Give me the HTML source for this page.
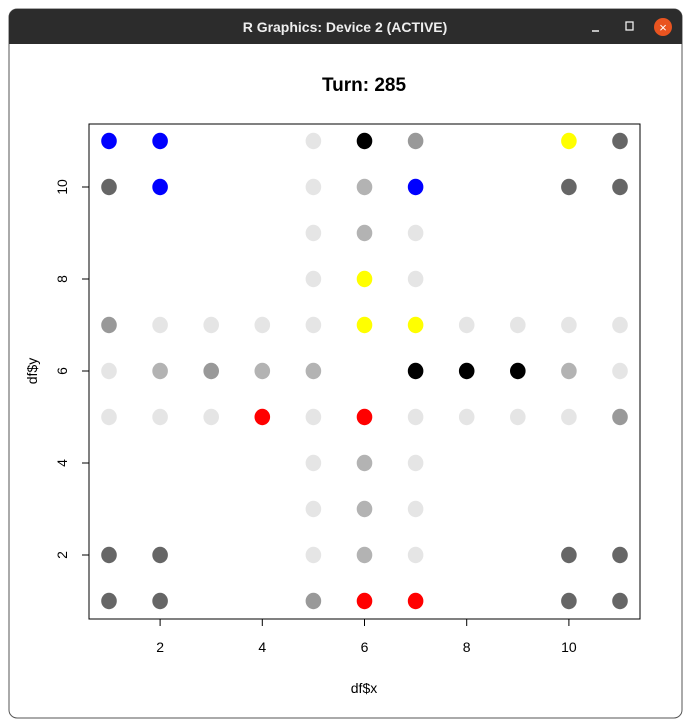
<!DOCTYPE html>
<html><head><meta charset="utf-8"><style>
html,body{margin:0;padding:0;background:#fff;width:691px;height:728px;overflow:hidden;font-family:"Liberation Sans",sans-serif}
</style></head><body>
<svg width="691" height="728" xmlns="http://www.w3.org/2000/svg">
<rect x="9" y="9" width="673" height="709" rx="8" fill="#fff" stroke="#555" stroke-width="1"/>
<path d="M9 44 V17 a8 8 0 0 1 8 -8 H674 a8 8 0 0 1 8 8 V44 Z" fill="#2c2c2c"/>
<text x="345" y="32" text-anchor="middle" fill="#eee" font-size="14" font-weight="bold">R Graphics: Device 2 (ACTIVE)</text>
<line x1="592" y1="31" x2="599" y2="31" stroke="#eee" stroke-width="1.5"/>
<rect x="626" y="22" width="7" height="8" fill="none" stroke="#eee" stroke-width="1.3"/>
<g><circle cx="663" cy="27" r="9" fill="#e95420"/><text x="663" y="32" text-anchor="middle" fill="#fff" font-size="13">×</text></g>
<text x="364" y="91" text-anchor="middle" font-size="19" font-weight="bold">Turn: 285</text>
<rect x="89" y="124" width="551" height="495" fill="none" stroke="#000" stroke-width="1"/>
<g id="axes"></g>
<g id="pts"></g>
<text x="364" y="693" text-anchor="middle" font-size="14">df$x</text>
<text transform="translate(37,371) rotate(-90)" text-anchor="middle" font-size="14">df$y</text>
</svg>
<script>
const xTicks=[2,4,6,8,10];
const yTicks=[2,4,6,8,10];
const px=[1,2,5,6,7,10,11, 1,2,5,6,7,10,11, 5,6,7, 5,6,7, 1,2,3,4,5,6,7,8,9,10,11, 1,2,3,4,5,7,8,9,10,11, 1,2,3,4,5,6,7,8,9,10,11, 5,6,7, 5,6,7, 1,2,5,6,7,10,11, 1,2,5,6,7,10,11];
const py=[11,11,11,11,11,11,11, 10,10,10,10,10,10,10, 9,9,9, 8,8,8, 7,7,7,7,7,7,7,7,7,7,7, 6,6,6,6,6,6,6,6,6,6, 5,5,5,5,5,5,5,5,5,5,5, 4,4,4, 3,3,3, 2,2,2,2,2,2,2, 1,1,1,1,1,1,1];
const pc=["blue","blue","#e5e5e5","black","#999","yellow","#666",
"#666","blue","#e5e5e5","#b3b3b3","blue","#666","#666",
"#e5e5e5","#b3b3b3","#e5e5e5",
"#e5e5e5","yellow","#e5e5e5",
"#999","#e5e5e5","#e5e5e5","#e5e5e5","#e5e5e5","yellow","yellow","#e5e5e5","#e5e5e5","#e5e5e5","#e5e5e5",
"#e5e5e5","#b3b3b3","#999","#b3b3b3","#b3b3b3","black","black","black","#b3b3b3","#e5e5e5",
"#e5e5e5","#e5e5e5","#e5e5e5","red","#e5e5e5","red","#e5e5e5","#e5e5e5","#e5e5e5","#e5e5e5","#999",
"#e5e5e5","#b3b3b3","#e5e5e5",
"#e5e5e5","#b3b3b3","#e5e5e5",
"#666","#666","#e5e5e5","#b3b3b3","#e5e5e5","#666","#666",
"#666","#666","#999","red","red","#666","#666"];
const NS="http://www.w3.org/2000/svg";
const sx=v=>109+(v-1)*51.1;
const sy=v=>601-(v-1)*46;
const ax=document.getElementById('axes');
xTicks.forEach(t=>{
  const l=document.createElementNS(NS,'line');
  l.setAttribute('x1',sx(t));l.setAttribute('x2',sx(t));l.setAttribute('y1',619);l.setAttribute('y2',626);l.setAttribute('stroke','#000');
  
  
  ax.appendChild(l);
  const tx=document.createElementNS(NS,'text');
  tx.setAttribute('x',sx(t));tx.setAttribute('y',652);tx.setAttribute('text-anchor','middle');tx.setAttribute('font-size','14');
  tx.textContent=t;
  
  
  ax.appendChild(tx);
});
yTicks.forEach(t=>{
  const l=document.createElementNS(NS,'line');
  l.setAttribute('x1',82);l.setAttribute('x2',89);l.setAttribute('y1',sy(t));l.setAttribute('y2',sy(t));l.setAttribute('stroke','#000');
  
  
  ax.appendChild(l);
  const tx=document.createElementNS(NS,'text');
  tx.setAttribute('transform','translate(67,'+sy(t)+') rotate(-90)');tx.setAttribute('text-anchor','middle');tx.setAttribute('font-size','14');
  tx.textContent=t;
  
  
  ax.appendChild(tx);
});
const g=document.getElementById('pts');
px.forEach((x,i)=>{
  const e=document.createElementNS(NS,'ellipse');
  e.setAttribute('cx',sx(x));e.setAttribute('cy',sy(py[i]));e.setAttribute('rx',7.8);e.setAttribute('ry',8.2);e.setAttribute('fill',pc[i]);
  
  
  g.appendChild(e);
});
</script>
</body></html>
